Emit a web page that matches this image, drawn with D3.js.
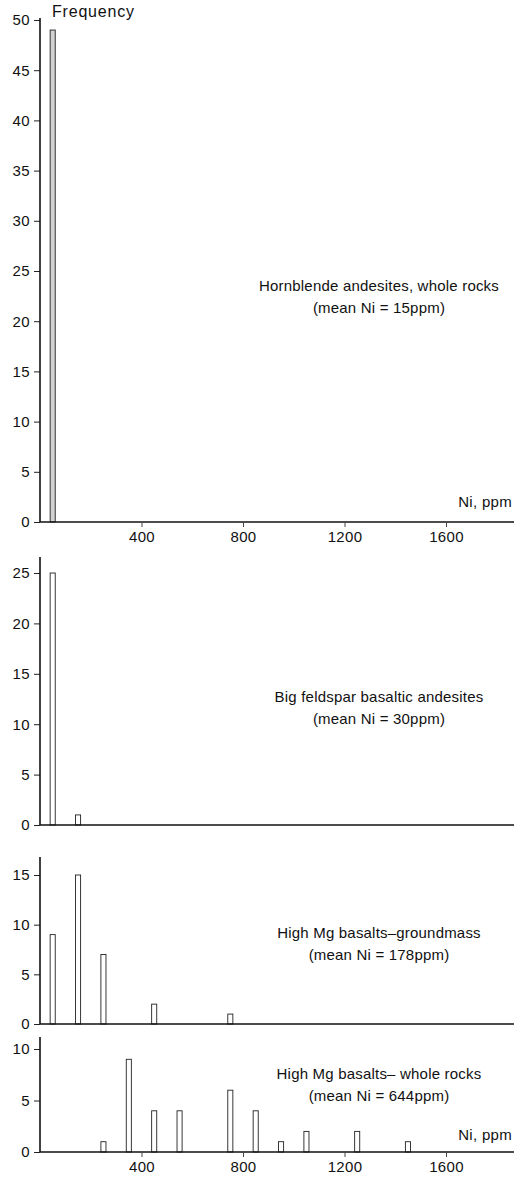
<!DOCTYPE html>
<meta charset="utf-8" />
<script src="https://d3js.org/d3.v7.min.js"></script>
<style>
  body { margin: 0; background: #fff; }
  text { font-family: "Liberation Sans", Arial, sans-serif; fill: #111; }
</style>
<div id="chart"></div>
<script>
  // ---- data ----
  // bin centres in ppm Ni, counts per bin
  const hornblendeBins = [50];
  const hornblendeCounts = [49];
  const feldsparBins = [50, 150];
  const feldsparCounts = [25, 1];
  const groundmassBins = [50, 150, 250, 450, 750];
  const groundmassCounts = [9, 15, 7, 2, 1];
  const wholeRockBins = [250, 350, 450, 550, 750, 850, 950, 1050, 1250, 1450];
  const wholeRockCounts = [1, 9, 4, 4, 6, 4, 1, 2, 2, 1];

  const panelTitles = [
    "Hornblende andesites, whole rocks",
    "Big feldspar basaltic andesites",
    "High Mg basalts\u2013groundmass",
    "High Mg basalts\u2013 whole rocks",
  ];
  const panelMeans = [
    "(mean Ni = 15ppm)",
    "(mean Ni = 30ppm)",
    "(mean Ni = 178ppm)",
    "(mean Ni = 644ppm)",
  ];
  const yTicks1 = [0, 5, 10, 15, 20, 25, 30, 35, 40, 45, 50];
  const yTicks2 = [0, 5, 10, 15, 20, 25];
  const yTicks3 = [0, 5, 10, 15];
  const yTicks4 = [0, 5, 10];
  const xTicks = [400, 800, 1200, 1600];

  // ---- layout ----
  const W = 514, H = 1180;
  const svg = d3.select("#chart").append("svg")
    .attr("width", W).attr("height", H);

  const x = d3.scaleLinear().domain([0, 1600]).range([40, 446]);
  const barHalf = 10; // ppm

  const panels = [
    { bins: hornblendeBins, counts: hornblendeCounts, ticks: yTicks1, yMax: 50,
      y0: 522, yTop: 20, axisTop: 18, textY: 291, xLabels: true, fill: "#d2d2d2", niLabel: 507 },
    { bins: feldsparBins, counts: feldsparCounts, ticks: yTicks2, yMax: 25,
      y0: 825, yTop: 573, axisTop: 557, textY: 702, xLabels: false, fill: "#fff" },
    { bins: groundmassBins, counts: groundmassCounts, ticks: yTicks3, yMax: 15,
      y0: 1024, yTop: 875, axisTop: 857, textY: 938, xLabels: false, fill: "#fff" },
    { bins: wholeRockBins, counts: wholeRockCounts, ticks: yTicks4, yMax: 10,
      y0: 1152, yTop: 1049, axisTop: 1037, textY: 1079, xLabels: true, fill: "#fff", niLabel: 1140 },
  ];

  panels.forEach((p, i) => {
    const y = d3.scaleLinear().domain([0, p.yMax]).range([p.y0, p.yTop]);
    const g = svg.append("g");
    const data = p.bins.map((b, j) => ({ bin: b, count: p.counts[j] }));

    // bars
    g.selectAll("rect")
      .data(data)
      .join("rect")
      .attr("x", (d) => x(d.bin - barHalf))
      .attr("y", (d) => y(d.count))
      .attr("width", (d) => x(d.bin + barHalf) - x(d.bin - barHalf))
      .attr("height", (d) => y(0) - y(d.count))
      .attr("fill", p.fill)
      .attr("stroke", "#222")
      .attr("stroke-width", 0.9);

    // y axis
    const ya = g.append("g")
      .attr("transform", `translate(${x(0)},0)`)
      .call(d3.axisLeft(y).tickValues(p.ticks).tickSize(6).tickPadding(4).tickFormat(d3.format("d")));
    ya.select(".domain").remove();
    ya.selectAll("line").attr("stroke", "#222");
    ya.selectAll("text").style("font-size", "15px").style("letter-spacing", "0.4px")
      .style("font-family", "Liberation Sans, Arial, sans-serif");
    g.append("line")
      .attr("x1", x(0)).attr("x2", x(0))
      .attr("y1", p.axisTop).attr("y2", p.y0)
      .attr("stroke", "#111").attr("stroke-width", 1.6);

    // x axis
    g.append("line")
      .attr("x1", x(0)).attr("x2", W)
      .attr("y1", p.y0).attr("y2", p.y0)
      .attr("stroke", "#111").attr("stroke-width", 1.6);
    if (p.xLabels) {
      const xa = g.append("g")
        .attr("transform", `translate(0,${p.y0})`)
        .call(d3.axisBottom(x).tickValues(xTicks).tickSize(5).tickPadding(4).tickFormat(d3.format("d")));
      xa.select(".domain").remove();
      xa.selectAll("line").attr("stroke", "#444");
      xa.selectAll("text").style("font-size", "15px").style("letter-spacing", "0.3px")
        .style("font-family", "Liberation Sans, Arial, sans-serif");
      g.append("text")
        .attr("x", 512).attr("y", p.niLabel)
        .attr("text-anchor", "end")
        .style("font-size", "15px")
        .style("letter-spacing", "0.3px")
        .text("Ni, ppm");
    }

    // annotation
    g.append("text")
      .attr("x", 379).attr("y", p.textY)
      .attr("text-anchor", "middle")
      .style("font-size", "15px")
      .style("letter-spacing", "0.2px")
      .text(panelTitles[i]);
    g.append("text")
      .attr("x", 379).attr("y", p.textY + 22)
      .attr("text-anchor", "middle")
      .style("font-size", "15px")
      .style("letter-spacing", "0.2px")
      .text(panelMeans[i]);
  });

  svg.append("text")
    .attr("x", 52).attr("y", 17)
    .style("font-size", "16px")
    .style("letter-spacing", "0.8px")
    .text("Frequency");
</script>
